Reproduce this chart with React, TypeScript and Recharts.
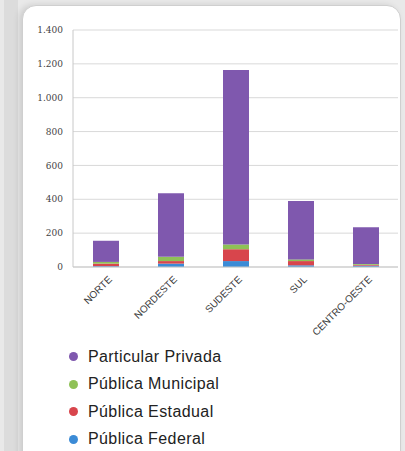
import { Bar, BarChart, CartesianGrid, XAxis, YAxis } from "recharts";

const regions = ["NORTE", "NORDESTE", "SUDESTE", "SUL", "CENTRO-OESTE"];
const publicaFederal = [5, 20, 35, 10, 8];
const publicaEstadual = [15, 15, 70, 25, 5];
const publicaMunicipal = [10, 25, 28, 10, 5];
const particularPrivada = [125, 375, 1030, 345, 217];
const yTicks = [0, 200, 400, 600, 800, 1000, 1200, 1400];

const series = [
    { key: "federal", name: "Pública Federal", color: "#3b8bd6", values: publicaFederal },
    { key: "estadual", name: "Pública Estadual", color: "#d8454c", values: publicaEstadual },
    { key: "municipal", name: "Pública Municipal", color: "#8fc157", values: publicaMunicipal },
    { key: "privada", name: "Particular Privada", color: "#7f58ae", values: particularPrivada },
];

const data = regions.map((region, i) => {
    const row: Record<string, string | number> = { region };
    series.forEach(s => { row[s.key] = s.values[i]; });
    return row;
});

const formatThousands = (v: number) => v.toLocaleString("de-DE");

const RegionTick = (props: any) => {
    const { x, y, payload } = props;
    return <g transform={`translate(${x + 5},${y + 3}) rotate(-45)`}>
        <text x={0} y={0} dy={3} textAnchor="end" fontSize={10} fill="#3a3a3a"
            fontFamily="'Liberation Sans', Arial, sans-serif">
            {payload.value}
        </text>
    </g>;
};

const LegendList = () => <div style={{ position: "absolute", left: 69, top: 343, fontFamily: "'Liberation Sans', Arial, sans-serif" }}>
    {[...series].reverse().map(s =>
        <div key={s.key} style={{ display: "flex", alignItems: "center", height: 27.5 }}>
            <span style={{ width: 9, height: 9, borderRadius: "50%", background: s.color, display: "inline-block", marginRight: 10 }} />
            <span style={{ fontSize: 16, color: "#222", letterSpacing: 0.4 }}>{s.name}</span>
        </div>
    )}
</div>;

const App = () => {
    return <div style={{ position: "fixed", left: 0, top: 0, width: 405, height: 451, overflow: "hidden", background: "#e9e9e9" }}>
        <div style={{ position: "absolute", left: 4, top: 0, width: 14, height: 451, background: "#dcdcdc" }} />
        <div style={{
            position: "absolute", left: 22, top: 5, width: 377, height: 470, background: "#fff",
            borderRadius: 14, border: "1px solid #cfcfcf", boxShadow: "-3px 0 6px rgba(0,0,0,0.12)"
        }} />
        <div style={{ position: "absolute", left: 0, top: 0 }}>
            <BarChart width={405} height={451} data={data} margin={{ top: 30, right: 7, left: 23, bottom: 104 }}>
                <CartesianGrid vertical={false} stroke="#d9d9d9" />
                <XAxis dataKey="region" height={80} interval={0} tick={<RegionTick />} tickLine={false}
                    axisLine={{ stroke: "#c8c8c8" }} />
                <YAxis width={50} domain={[0, 1400]} ticks={yTicks} tickFormatter={formatThousands}
                    tickLine={false} tickSize={0} tickMargin={10} axisLine={{ stroke: "#c8c8c8" }}
                    tick={{ fontSize: 9, fill: "#444", fontFamily: "'DejaVu Serif', serif" }} />
                {series.map(s =>
                    <Bar key={s.key} dataKey={s.key} name={s.name} stackId="a" fill={s.color}
                        barSize={26} isAnimationActive={false} />
                )}
            </BarChart>
        </div>
        <LegendList />
    </div>;
};

export default App;
